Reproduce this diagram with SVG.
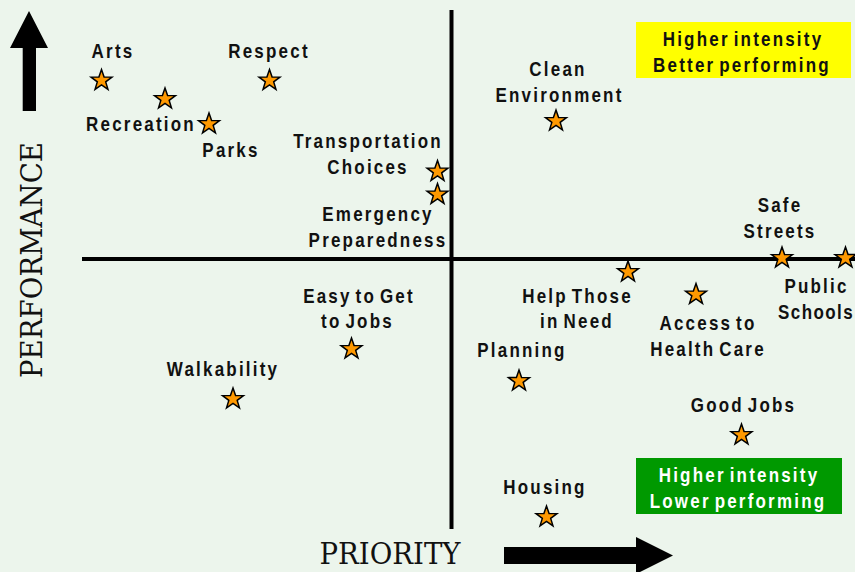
<svg xmlns="http://www.w3.org/2000/svg" xmlns:xlink="http://www.w3.org/1999/xlink" width="855" height="572" viewBox="0 0 855 572">
<style>
.lbl{font-family:"Liberation Sans",Arial,sans-serif;font-weight:bold;font-size:17px;letter-spacing:2.2px;word-spacing:-3px;text-anchor:middle;fill:#111}
.wht{fill:#fff}
.star{fill:#FF9900;stroke:#000;stroke-width:1.5;stroke-linejoin:miter}
.axis{stroke:#000;stroke-width:4;fill:none}
.ttl{font-family:"DejaVu Serif","Liberation Serif",serif;font-size:30px;text-anchor:middle;fill:#111}
</style>
<defs>
<path id="star" class="star" d="M0,-11 L2.59,-3.56 L10.46,-3.4 L4.18,1.36 L6.47,8.9 L0,4.4 L-6.47,8.9 L-4.18,1.36 L-10.46,-3.4 L-2.59,-3.56 Z"/>
</defs>
<rect x="0" y="0" width="855" height="572" fill="#ECF5EC"/>

<g id="connectors">
<line class="axis" x1="451.5" y1="10" x2="451.5" y2="529"/>
<line class="axis" x1="82" y1="259" x2="855" y2="259"/>
<polygon points="22.7,111 36,111 36,48 48,48 29,11 10,48 22.7,48" fill="#000"/>
<polygon points="504,547 636,547 636,537 673,555.5 636,574 636,564 504,564" fill="#000"/>
</g>

<g id="axis-labels">
<text class="ttl" transform="translate(42,260) rotate(-90)" textLength="236" lengthAdjust="spacingAndGlyphs">PERFORMANCE</text>
<text class="ttl" x="390" y="564" textLength="141" lengthAdjust="spacingAndGlyphs">PRIORITY</text>
</g>

<g id="legend-high">
<rect x="636" y="22" width="215" height="56" fill="#FFFF00"/>
<text class="lbl" transform="translate(743,46) scale(1,1.2)">Higher intensity</text>
<text class="lbl" transform="translate(742,71.5) scale(1,1.2)">Better performing</text>
</g>

<g id="legend-low">
<rect x="636" y="458" width="206" height="56" fill="#009900"/>
<text class="lbl wht" transform="translate(739,481.5) scale(1,1.2)">Higher intensity</text>
<text class="lbl wht" transform="translate(738,508) scale(1,1.2)">Lower performing</text>
</g>

<g id="arts">
<use xlink:href="#star" x="101.5" y="80.5"/>
<text class="lbl" transform="translate(113,58) scale(1,1.2)">Arts</text>
</g>
<g id="respect">
<use xlink:href="#star" x="269.5" y="80.5"/>
<text class="lbl" transform="translate(269,58) scale(1,1.2)">Respect</text>
</g>
<g id="recreation">
<use xlink:href="#star" x="165" y="99"/>
<text class="lbl" transform="translate(141,131) scale(1,1.2)">Recreation</text>
</g>
<g id="parks">
<use xlink:href="#star" x="209" y="124"/>
<text class="lbl" transform="translate(231,157) scale(1,1.2)">Parks</text>
</g>
<g id="transportation">
<use xlink:href="#star" x="437.5" y="171.5"/>
<text class="lbl" transform="translate(368,148) scale(1,1.2)">Transportation</text>
<text class="lbl" transform="translate(368,174) scale(1,1.2)">Choices</text>
</g>
<g id="emergency">
<use xlink:href="#star" x="437.5" y="194.5"/>
<text class="lbl" transform="translate(378,220.5) scale(1,1.2)">Emergency</text>
<text class="lbl" transform="translate(378,247) scale(1,1.2)">Preparedness</text>
</g>
<g id="clean-environment">
<use xlink:href="#star" x="556" y="121"/>
<text class="lbl" transform="translate(558,75.5) scale(1,1.2)">Clean</text>
<text class="lbl" transform="translate(559.5,101.5) scale(1,1.2)">Environment</text>
</g>
<g id="safe-streets">
<use xlink:href="#star" x="782" y="258"/>
<text class="lbl" transform="translate(780,212) scale(1,1.2)">Safe</text>
<text class="lbl" transform="translate(780,237.5) scale(1,1.2)">Streets</text>
</g>
<g id="public-schools">
<use xlink:href="#star" x="845.5" y="258"/>
<text class="lbl" transform="translate(816.5,293) scale(1,1.2)">Public</text>
<text class="lbl" transform="translate(854,319) scale(1,1.2)" style="text-anchor:end;letter-spacing:1.4px">Schools</text>
</g>
<g id="help-those">
<use xlink:href="#star" x="628" y="272"/>
<text class="lbl" transform="translate(577.5,302.5) scale(1,1.2)">Help Those</text>
<text class="lbl" transform="translate(577,328) scale(1,1.2)">in Need</text>
</g>
<g id="health-care">
<use xlink:href="#star" x="696" y="294.5"/>
<text class="lbl" transform="translate(708,330) scale(1,1.2)">Access to</text>
<text class="lbl" transform="translate(708,355.5) scale(1,1.2)">Health Care</text>
</g>
<g id="easy-jobs">
<use xlink:href="#star" x="351.5" y="349"/>
<text class="lbl" transform="translate(359,302.5) scale(1,1.2)">Easy to Get</text>
<text class="lbl" transform="translate(357.5,328) scale(1,1.2)">to Jobs</text>
</g>
<g id="walkability">
<use xlink:href="#star" x="233" y="399"/>
<text class="lbl" transform="translate(223,376) scale(1,1.2)">Walkability</text>
</g>
<g id="planning">
<use xlink:href="#star" x="519" y="381"/>
<text class="lbl" transform="translate(522,357) scale(1,1.2)">Planning</text>
</g>
<g id="good-jobs">
<use xlink:href="#star" x="741.5" y="435"/>
<text class="lbl" transform="translate(743.5,411.5) scale(1,1.2)">Good Jobs</text>
</g>
<g id="housing">
<use xlink:href="#star" x="546.5" y="517"/>
<text class="lbl" transform="translate(545,494) scale(1,1.2)">Housing</text>
</g>
</svg>
